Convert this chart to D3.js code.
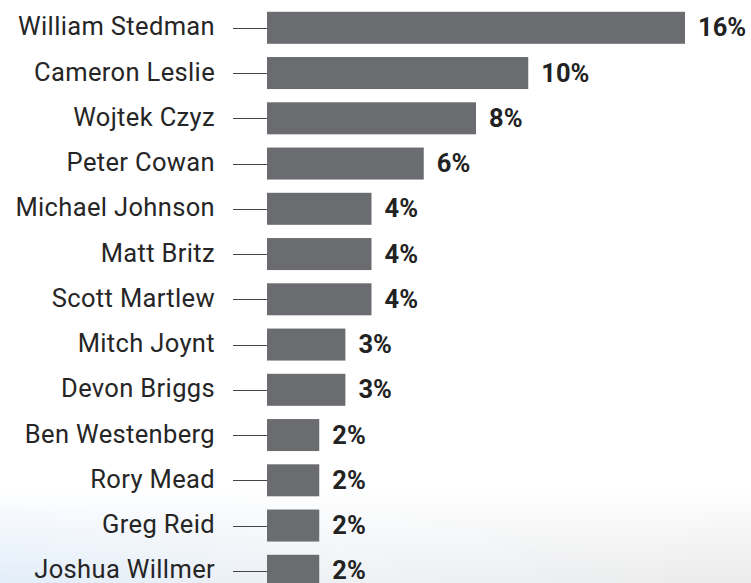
<!DOCTYPE html>
<html>
<head>
<meta charset="utf-8">
<script src="https://cdn.jsdelivr.net/npm/d3@7"></script>
<style>
  html, body { margin: 0; padding: 0; background: #fff; }
  svg { display: block; }
</style>
</head>
<body>
<svg id="chart" width="751" height="583"></svg>
<script>
const names = ["William Stedman","Cameron Leslie","Wojtek Czyz","Peter Cowan","Michael Johnson","Matt Britz","Scott Martlew","Mitch Joynt","Devon Briggs","Ben Westenberg","Rory Mead","Greg Reid","Joshua Willmer"];
const values = [16,10,8,6,4,4,4,3,3,2,2,2,2];
const valueLabels = ["16%","10%","8%","6%","4%","4%","4%","3%","3%","2%","2%","2%","2%"];

const W = 751, H = 583;
const svg = d3.select("#chart");
const defs = svg.append("defs");

// background gradient at bottom
const hg = defs.append("linearGradient").attr("id","hg").attr("x1","0").attr("x2","1").attr("y1","0").attr("y2","0");
hg.append("stop").attr("offset","0").attr("stop-color","#e2edf9");
hg.append("stop").attr("offset","0.45").attr("stop-color","#eef1f4");
hg.append("stop").attr("offset","1").attr("stop-color","#ebebeb");
const vg = defs.append("linearGradient").attr("id","vg").attr("x1","0").attr("x2","0").attr("y1","0").attr("y2","1");
vg.append("stop").attr("offset","0").attr("stop-color","#fff").attr("stop-opacity",0);
vg.append("stop").attr("offset","1").attr("stop-color","#fff").attr("stop-opacity",1);
const mask = defs.append("mask").attr("id","vm");
mask.append("rect").attr("x",0).attr("y",485).attr("width",W).attr("height",H-485).attr("fill","url(#vg)");
svg.append("rect").attr("x",0).attr("y",485).attr("width",W).attr("height",H-485)
  .attr("fill","url(#hg)").attr("mask","url(#vm)");

const x0 = 267;
const x = d3.scaleLinear().domain([0,16]).range([x0, 685]);
const step = 45.25, bh = 32;
const pad = (step - bh) / step;
const top0 = 11.8 - (step - bh) / 2;
const y = d3.scaleBand().domain(names).range([top0, top0 + step * names.length])
  .paddingInner(pad).paddingOuter(pad / 2);

const g = svg.append("g");
const rows = g.selectAll("g.row").data(names).enter().append("g").attr("class","row");

rows.append("rect")
  .attr("x", x(0))
  .attr("y", d => y(d))
  .attr("width", (d,i) => x(values[i]) - x(0))
  .attr("height", y.bandwidth())
  .attr("fill", "#6b6c70");

rows.append("line")
  .attr("x1", 233).attr("x2", x0)
  .attr("y1", d => Math.round(y(d) + y.bandwidth()/2) + 0.5)
  .attr("y2", d => Math.round(y(d) + y.bandwidth()/2) + 0.5)
  .attr("stroke", "#444").attr("stroke-width", 1);

rows.append("text")
  .attr("x", 215)
  .attr("y", d => y(d) + y.bandwidth()/2 + 7.5)
  .attr("text-anchor", "end")
  .attr("font-family", "Roboto, sans-serif")
  .attr("font-size", 25.5)
  .attr("letter-spacing", 0.35)
  .attr("fill", "#262626")
  .text(d => d);

rows.append("text")
  .attr("x", (d,i) => x(values[i]) + 13)
  .attr("y", d => y(d) + y.bandwidth()/2 + 8.6)
  .attr("font-family", "Roboto, sans-serif")
  .attr("font-weight", "bold")
  .attr("font-size", 25.5)
  .attr("fill", "#222")
  .text((d,i) => valueLabels[i]);
</script>
</body>
</html>
